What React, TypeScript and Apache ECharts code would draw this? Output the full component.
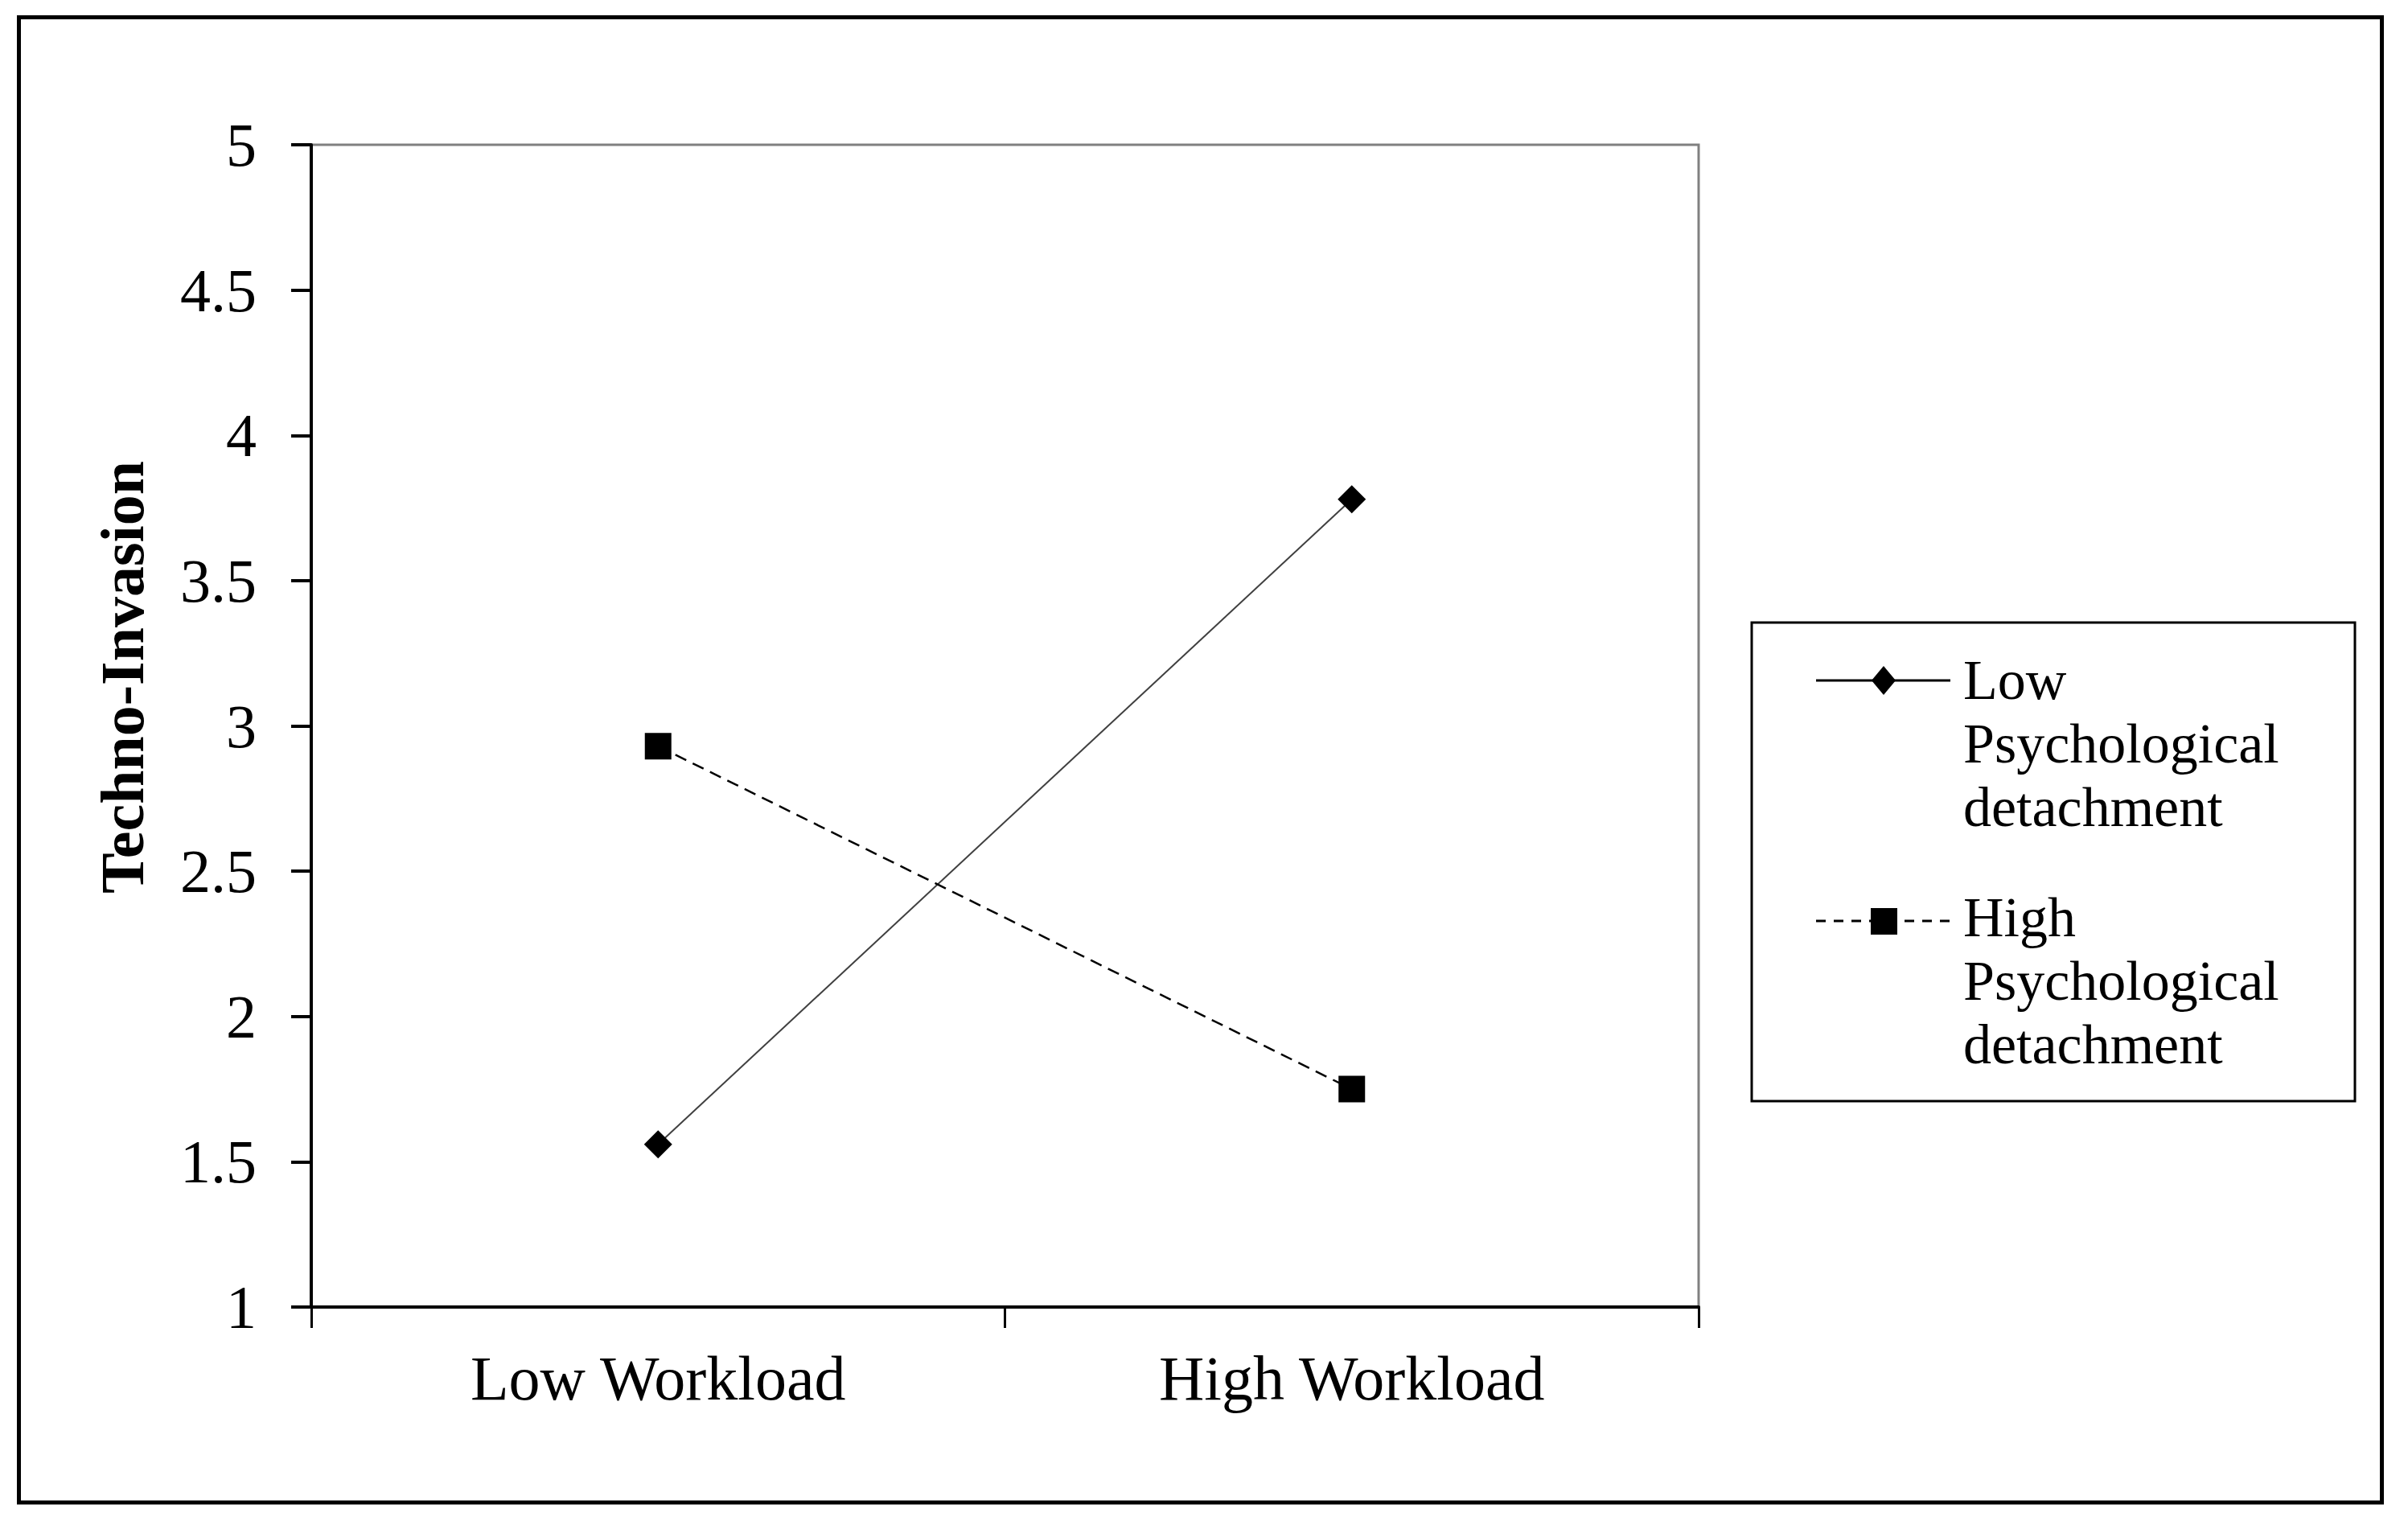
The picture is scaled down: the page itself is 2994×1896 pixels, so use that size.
import React, { useEffect, useRef } from 'react';
import * as echarts from 'echarts';

const categories = ['Low Workload', 'High Workload'];
const lowDetachment = [1.56, 3.78];
const highDetachment = [2.93, 1.75];
const seriesNames = ['Low Psychological detachment', 'High Psychological detachment'];
const legendLabels = ['Low\nPsychological\ndetachment', 'High\nPsychological\ndetachment'];
const yAxisTitle = 'Techno-Invasion';
const yMin = 1;
const yMax = 5;
const yInterval = 0.5;

const SERIF = 'Liberation Serif, Times New Roman, serif';

export default function App() {
  const ref = useRef<HTMLDivElement>(null);

  useEffect(() => {
    const chart = echarts.init(ref.current as HTMLDivElement, null, { renderer: 'svg' });
    chart.setOption({
      animation: false,
      backgroundColor: '#ffffff',
      grid: {
        left: 387,
        right: 882,
        top: 180,
        bottom: 271,
        show: true,
        borderColor: '#808080',
        borderWidth: 3,
        backgroundColor: 'transparent',
      },
      xAxis: {
        type: 'category',
        data: categories,
        boundaryGap: true,
        axisLine: { show: true, lineStyle: { color: '#000000', width: 4 } },
        axisTick: { show: true, length: 26, lineStyle: { color: '#000000', width: 3 } },
        axisLabel: { color: '#000000', fontFamily: SERIF, fontSize: 78, margin: 49 },
        splitLine: { show: false },
      },
      yAxis: {
        type: 'value',
        min: yMin,
        max: yMax,
        interval: yInterval,
        axisLine: { show: true, lineStyle: { color: '#000000', width: 4 } },
        axisTick: { show: true, length: 25, lineStyle: { color: '#000000', width: 4 } },
        axisLabel: { color: '#000000', fontFamily: SERIF, fontSize: 76, margin: 68 },
        splitLine: { show: false },
      },
      series: [
        {
          name: seriesNames[0],
          type: 'line',
          data: lowDetachment,
          symbol: 'diamond',
          symbolSize: 35,
          itemStyle: { color: '#000000' },
          lineStyle: { color: '#404040', width: 2 },
          z: 3,
        },
        {
          name: seriesNames[1],
          type: 'line',
          data: highDetachment,
          symbol: 'rect',
          symbolSize: 33,
          itemStyle: { color: '#000000' },
          lineStyle: { color: '#000000', width: 2.5, type: [15, 9] },
          z: 3,
        },
      ],
      graphic: [
        {
          type: 'rect',
          silent: true,
          shape: { x: 23.5, y: 21.5, width: 2938, height: 1846.5 },
          style: { fill: 'none', stroke: '#000000', lineWidth: 5 },
          z: 100,
        },
        {
          type: 'text',
          silent: true,
          x: 152,
          y: 842,
          rotation: Math.PI / 2,
          style: {
            text: yAxisTitle,
            fontFamily: SERIF,
            fontSize: 76,
            fontWeight: 'bold',
            fill: '#000000',
            align: 'center',
            verticalAlign: 'middle',
          },
        },
        {
          type: 'group',
          silent: true,
          children: [
            {
              type: 'rect',
              shape: { x: 2178, y: 774, width: 750, height: 595 },
              style: { fill: '#ffffff', stroke: '#000000', lineWidth: 3 },
            },
            {
              type: 'line',
              shape: { x1: 2258, y1: 846, x2: 2425, y2: 846 },
              style: { stroke: '#000000', lineWidth: 3 },
            },
            {
              type: 'polygon',
              shape: { points: [[2342, 828], [2357, 846], [2342, 864], [2327, 846]] },
              style: { fill: '#000000' },
            },
            {
              type: 'text',
              x: 2441,
              y: 805.5,
              style: {
                text: legendLabels[0],
                fontFamily: SERIF,
                fontSize: 70,
                lineHeight: 79,
                fill: '#000000',
                align: 'left',
                verticalAlign: 'top',
              },
            },
            {
              type: 'line',
              shape: { x1: 2258, y1: 1145, x2: 2425, y2: 1145 },
              style: { stroke: '#000000', lineWidth: 3, lineDash: [12, 10] },
            },
            {
              type: 'rect',
              shape: { x: 2326, y: 1129, width: 33, height: 33 },
              style: { fill: '#000000' },
            },
            {
              type: 'text',
              x: 2441,
              y: 1100.5,
              style: {
                text: legendLabels[1],
                fontFamily: SERIF,
                fontSize: 70,
                lineHeight: 79,
                fill: '#000000',
                align: 'left',
                verticalAlign: 'top',
              },
            },
          ],
        },
      ],
    });
    return () => chart.dispose();
  }, []);

  return (
    <div
      ref={ref}
      style={{ position: 'absolute', left: 0, top: 0, width: 2994, height: 1896, background: '#ffffff' }}
    />
  );
}
